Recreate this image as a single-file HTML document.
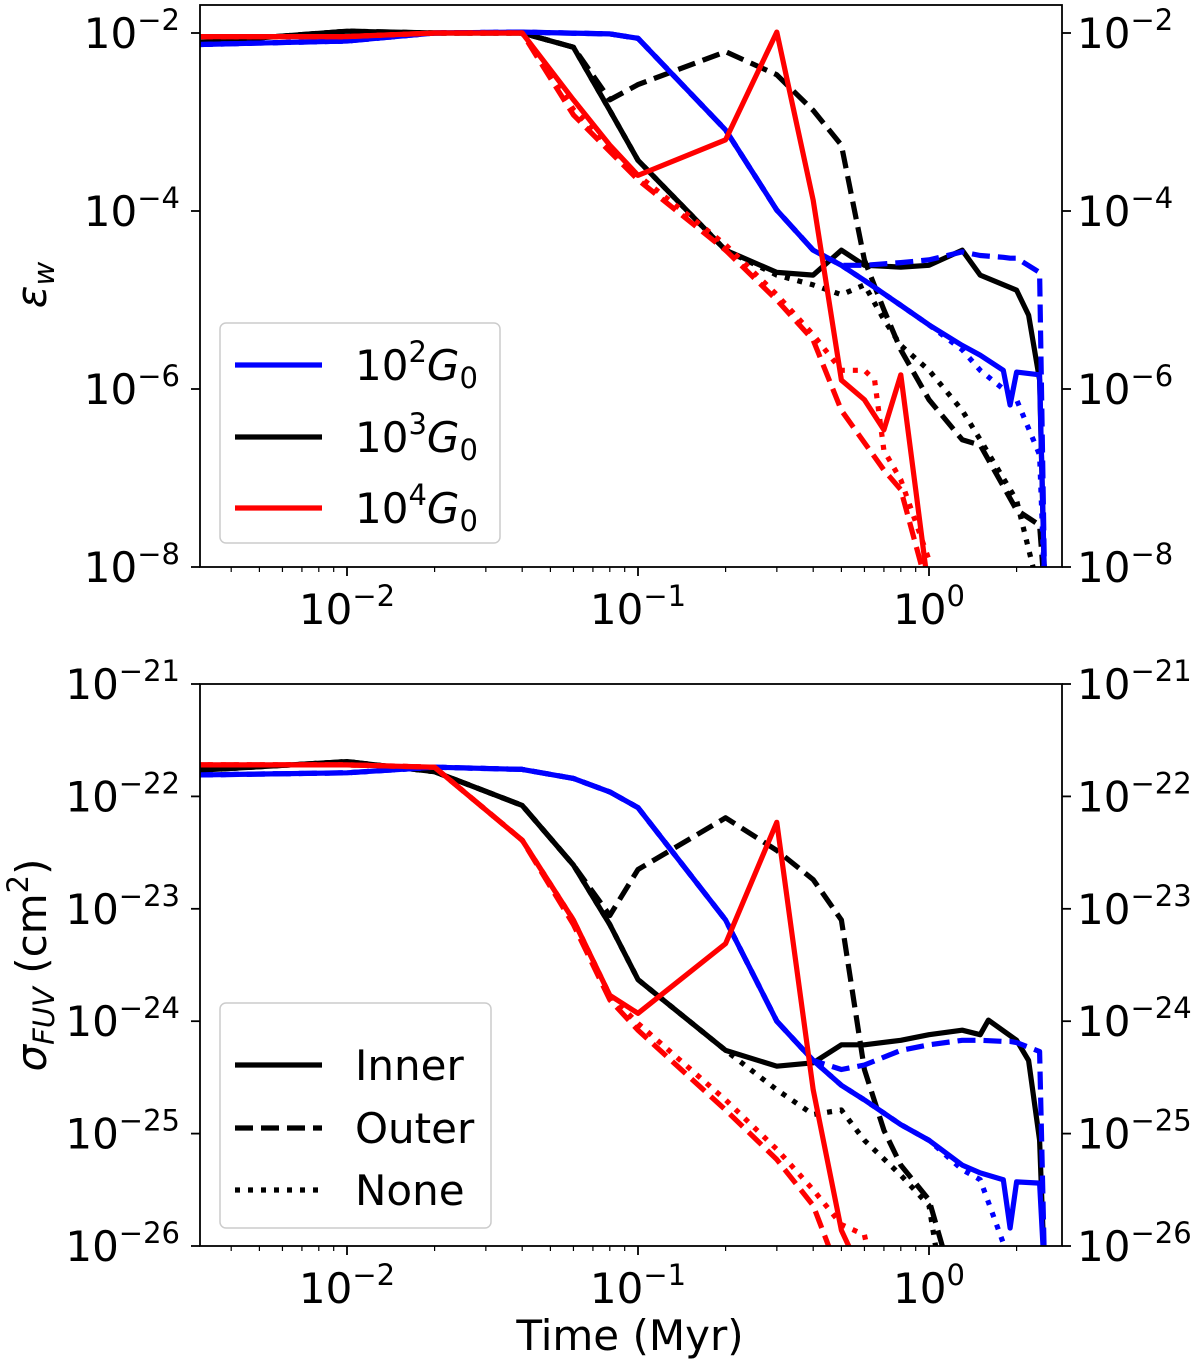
<!DOCTYPE html>
<html><head><meta charset="utf-8"><style>
html,body{margin:0;padding:0;background:#fff;}
svg text{font-family:"DejaVu Sans","Liberation Sans",sans-serif;fill:#000;}
</style></head><body>
<svg id="chart" width="1200" height="1366" viewBox="0 0 1200 1366" xmlns="http://www.w3.org/2000/svg">
<defs>
<clipPath id="clipTop"><rect x="200" y="5" width="862" height="562"/></clipPath>
<clipPath id="clipBot"><rect x="200" y="684" width="862" height="562"/></clipPath>
</defs>
<g id="gtop"></g>
<g id="gbot"></g>
</svg>
<script>
const tA = [0.003,0.01,0.02,0.04,0.06,0.08,0.1,0.2,0.3,0.4,0.5,0.6,0.8,1.0,1.3,1.5,2.0,2.2,2.4,2.5];
const epsBlackInner = [-2.11,-1.98,-2.0,-2.0,-2.16,-2.87,-3.43,-4.44,-4.69,-4.72,-4.44,-4.61,-4.63,-4.61,-4.44,-4.72,-4.89,-5.17,-5.90,-8.3];
const tBO = [0.003,0.01,0.02,0.04,0.06,0.08,0.1,0.2,0.3,0.4,0.5,0.6,0.7,0.8,1.0,1.3,1.5,2.0,2.4,2.5];
const epsBlackOuter = [-2.11,-1.98,-2.0,-2.0,-2.16,-2.75,-2.58,-2.21,-2.47,-2.87,-3.26,-4.55,-5.11,-5.56,-6.12,-6.57,-6.63,-7.36,-7.53,-8.3];
const tBN = [0.003,0.01,0.02,0.04,0.06,0.08,0.1,0.2,0.3,0.4,0.5,0.6,0.7,0.8,1.0,1.3,1.5,2.0,2.4];
const epsBlackNone = [-2.11,-1.98,-2.0,-2.0,-2.16,-2.87,-3.43,-4.44,-4.72,-4.83,-4.94,-4.83,-5.22,-5.51,-5.79,-6.24,-6.57,-7.25,-8.3];
const tBl = [0.003,0.01,0.02,0.04,0.08,0.1,0.2,0.3,0.4,0.5,0.6,0.8,1.0,1.3,1.5,1.8,1.9,2.0,2.4,2.5];
const epsBlueInner = [-2.13,-2.09,-2.0,-1.99,-2.01,-2.06,-3.09,-3.99,-4.44,-4.61,-4.78,-5.06,-5.28,-5.51,-5.62,-5.79,-6.18,-5.81,-5.84,-8.3];
const epsBlueOuter = [-2.13,-2.09,-2.0,-1.99,-2.01,-2.06,-3.09,-3.99,-4.44,-4.61,-4.61,-4.58,-4.55,-4.46,-4.50,-4.52,-4.53,-4.53,-4.69,-8.3];
const epsBlueNone = [-2.13,-2.09,-2.0,-1.99,-2.01,-2.06,-3.09,-3.99,-4.44,-4.61,-4.78,-5.06,-5.28,-5.56,-5.79,-6.0,-6.05,-6.12,-6.74,-8.3];
const tR = [0.003,0.01,0.02,0.04,0.06,0.08,0.1,0.2,0.3,0.4,0.5,0.6,0.7,0.8,0.9,1.0];
const epsRedInner = [-2.04,-2.04,-2.0,-2.0,-2.75,-3.26,-3.6,-3.2,-1.99,-3.88,-5.9,-6.12,-6.46,-5.84,-7.13,-8.3];
const tRD = [0.003,0.01,0.02,0.04,0.06,0.1,0.2,0.3,0.4,0.5,0.7,0.8,1.0];
const epsRedOuter = [-2.04,-2.04,-2.0,-2.0,-2.92,-3.65,-4.44,-5.0,-5.45,-6.24,-6.91,-7.13,-8.3];
const tRN = [0.003,0.01,0.02,0.04,0.06,0.1,0.2,0.3,0.4,0.5,0.6,0.65,0.7,0.8,1.0];
const epsRedNone = [-2.04,-2.04,-2.0,-2.0,-2.86,-3.6,-4.38,-4.94,-5.39,-5.79,-5.79,-5.9,-6.69,-7.02,-7.92];
const tS = [0.003,0.01,0.02,0.04,0.06,0.08,0.1,0.2,0.3,0.4,0.5,0.6,0.8,1.0,1.3,1.5,1.6,2.0,2.2,2.4,2.5];
const sigBlackInner = [-21.77,-21.69,-21.78,-22.08,-22.61,-23.14,-23.63,-24.26,-24.40,-24.37,-24.21,-24.21,-24.17,-24.12,-24.08,-24.12,-23.99,-24.17,-24.35,-25.06,-26.3];
const tSO = [0.003,0.01,0.02,0.04,0.06,0.08,0.1,0.2,0.3,0.4,0.5,0.6,0.7,0.8,1.0,1.2];
const sigBlackOuter = [-21.77,-21.69,-21.78,-22.08,-22.61,-23.06,-22.65,-22.19,-22.48,-22.74,-23.1,-24.43,-24.97,-25.28,-25.59,-26.3];
const tSN = [0.003,0.01,0.02,0.04,0.06,0.08,0.1,0.2,0.3,0.4,0.5,0.6,0.8,1.0,1.1];
const sigBlackNone = [-21.77,-21.69,-21.78,-22.08,-22.61,-23.14,-23.63,-24.26,-24.61,-24.83,-24.79,-25.06,-25.37,-25.64,-26.3];
const tSB = [0.003,0.01,0.02,0.04,0.06,0.08,0.1,0.2,0.3,0.4,0.5,0.6,0.8,1.0,1.3,1.5,1.8,1.9,2.0,2.4,2.5];
const sigBlueInner = [-21.81,-21.79,-21.74,-21.76,-21.84,-21.96,-22.1,-23.1,-24.0,-24.35,-24.57,-24.7,-24.92,-25.06,-25.28,-25.35,-25.41,-25.84,-25.43,-25.44,-26.3];
const sigBlueOuter = [-21.81,-21.79,-21.74,-21.76,-21.84,-21.96,-22.1,-23.1,-24.0,-24.35,-24.43,-24.39,-24.26,-24.21,-24.17,-24.17,-24.18,-24.18,-24.19,-24.27,-26.3];
const tSBN = [0.003,0.01,0.02,0.04,0.06,0.08,0.1,0.2,0.3,0.4,0.5,0.6,0.8,1.0,1.3,1.5,2.0];
const sigBlueNone = [-21.81,-21.79,-21.74,-21.76,-21.84,-21.96,-22.1,-23.1,-24.0,-24.35,-24.57,-24.7,-24.92,-25.06,-25.32,-25.41,-26.3];
const tSR = [0.003,0.01,0.02,0.04,0.06,0.08,0.1,0.2,0.3,0.4,0.5,0.6];
const sigRedInner = [-21.72,-21.72,-21.74,-22.39,-23.1,-23.77,-23.93,-23.31,-22.23,-24.61,-25.86,-26.3];
const tSRD = [0.003,0.01,0.02,0.04,0.06,0.08,0.1,0.2,0.3,0.4,0.5];
const sigRedOuter = [-21.72,-21.72,-21.74,-22.39,-23.14,-23.81,-24.08,-24.79,-25.23,-25.64,-26.3];
const tSRN = [0.003,0.01,0.02,0.04,0.06,0.08,0.1,0.2,0.3,0.4,0.5,0.6,0.65];
const sigRedNone = [-21.72,-21.72,-21.74,-22.39,-23.1,-23.77,-24.02,-24.70,-25.14,-25.50,-25.81,-25.9,-26.3];
const xTickLabels = ["10","10","10"];
const xTickExps = ["−2","−1","0"];
const topTickExps = ["−2","−4","−6","−8"];
const botTickExps = ["−21","−22","−23","−24","−25","−26"];

const NS="http://www.w3.org/2000/svg";
function mk(tag,attrs,parent){const e=document.createElementNS(NS,tag);for(const k in attrs)e.setAttribute(k,attrs[k]);parent.appendChild(e);return e;}
const X0=200,X1=1062,FS=42,SFS=29;
function xs(t){return 347+291*(Math.log10(t)+2);}
function ysTop(l){return 33+(-2-l)*89;}
function ysBot(l){return 684+(-21-l)*112.4;}
const DASH={solid:null,dash:"18,8",dot:"5,8"};

function drawSeries(g,ts,vals,ys,color,style,name,clip){
  const d=ts.map((t,i)=>(i?"L":"M")+xs(t).toFixed(1)+","+ys(vals[i]).toFixed(1)).join(" ");
  const p=mk("path",{d:d,fill:"none",stroke:color,"stroke-width":5.2,"stroke-linejoin":"round","clip-path":"url(#"+clip+")"},g);
  if(DASH[style])p.setAttribute("stroke-dasharray",DASH[style]);
  
  
}
function supText(g,x,y,base,exp,anchor,name){
  const t=mk("text",{x:x,y:y,"font-size":FS,"text-anchor":anchor},g);
  t.appendChild(document.createTextNode(base));
  const s=mk("tspan",{dy:-18,"font-size":SFS},t);
  s.textContent=exp;
  
  
}
function axes(g,y0,y1,ys,exps,prefix){
  mk("rect",{x:X0,y:y0,width:X1-X0,height:y1-y0,fill:"none",stroke:"#000","stroke-width":1.8},g);
  for(let e=-3;e<=0;e++){for(let m=1;m<10;m++){const t=m*Math.pow(10,e);const x=xs(t);if(x<X0||x>X1)continue;
    const L=m===1?9:5;
    mk("line",{x1:x,y1:y1,x2:x,y2:y1+L,stroke:"#000","stroke-width":m===1?1.8:1.2},g);}}
  [-2,-1,0].forEach((e,i)=>{supText(g,xs(Math.pow(10,e)),y1+57,xTickLabels[i],xTickExps[i],"middle",prefix+"-x-tick-label");});
  exps.forEach((ex)=>{const l=-parseInt(ex.replace("−",""),10);const y=ys(l);
    mk("line",{x1:X0,y1:y,x2:X0-9,y2:y,stroke:"#000","stroke-width":1.8},g);
    mk("line",{x1:X1,y1:y,x2:X1+9,y2:y,stroke:"#000","stroke-width":1.8},g);
    supText(g,180,y+15,"10",ex,"end",prefix+"-y-tick-label-left");
    supText(g,1077,y+15,"10",ex,"start",prefix+"-y-tick-label-right");});
}
function legend(g,x,y,w,h,entries,name){
  const lg=mk("g",{},g);
  
  
  mk("rect",{x:x,y:y,width:w,height:h,rx:6,fill:"#fff","fill-opacity":0.85,stroke:"#ccc","stroke-width":1.5},lg);
  entries.forEach(en=>{
    const l=mk("line",{x1:x+15,y1:en.y,x2:x+102,y2:en.y,stroke:en.color,"stroke-width":5.2},lg);
    if(DASH[en.style])l.setAttribute("stroke-dasharray",DASH[en.style]);
    
    
    const t=mk("text",{x:x+135,y:en.y+15,"font-size":FS},lg);
    
    
    if(en.exp){t.appendChild(document.createTextNode("10"));const s=mk("tspan",{dy:-18,"font-size":SFS},t);s.textContent=en.exp;
      const gg=mk("tspan",{dy:18,"font-style":"italic"},t);gg.textContent="G";
      const z=mk("tspan",{dy:8,"font-size":SFS},t);z.textContent="0";}
    else t.textContent=en.label;
  });
}
const gTop=document.getElementById("gtop"), gBot=document.getElementById("gbot");
[[tA,epsBlackInner,"#000","solid","black-inner"],[tBO,epsBlackOuter,"#000","dash","black-outer"],[tBN,epsBlackNone,"#000","dot","black-none"],
 [tBl,epsBlueInner,"#0000ff","solid","blue-inner"],[tBl,epsBlueOuter,"#0000ff","dash","blue-outer"],[tBl,epsBlueNone,"#0000ff","dot","blue-none"],
 [tR,epsRedInner,"#ff0000","solid","red-inner"],[tRD,epsRedOuter,"#ff0000","dash","red-outer"],[tRN,epsRedNone,"#ff0000","dot","red-none"]]
 .forEach(s=>drawSeries(gTop,s[0],s[1],ysTop,s[2],s[3],"eps-"+s[4],"clipTop"));
[[tS,sigBlackInner,"#000","solid","black-inner"],[tSO,sigBlackOuter,"#000","dash","black-outer"],[tSN,sigBlackNone,"#000","dot","black-none"],
 [tSB,sigBlueInner,"#0000ff","solid","blue-inner"],[tSB,sigBlueOuter,"#0000ff","dash","blue-outer"],[tSBN,sigBlueNone,"#0000ff","dot","blue-none"],
 [tSR,sigRedInner,"#ff0000","solid","red-inner"],[tSRD,sigRedOuter,"#ff0000","dash","red-outer"],[tSRN,sigRedNone,"#ff0000","dot","red-none"]]
 .forEach(s=>drawSeries(gBot,s[0],s[1],ysBot,s[2],s[3],"sigma-"+s[4],"clipBot"));
axes(gTop,5,567,ysTop,topTickExps,"top");
axes(gBot,684,1246,ysBot,botTickExps,"bottom");
legend(gTop,220,323,280,220,[{y:365,color:"#0000ff",style:"solid",exp:"2"},{y:437,color:"#000",style:"solid",exp:"3"},{y:508,color:"#ff0000",style:"solid",exp:"4"}],"legend-field");
legend(gBot,220,1003,271,225,[{y:1065,color:"#000",style:"solid",label:"Inner"},{y:1128,color:"#000",style:"dash",label:"Outer"},{y:1190,color:"#000",style:"dot",label:"None"}],"legend-location");
let tt=mk("text",{x:0,y:0,"font-size":FS,transform:"translate(46,285) rotate(-90)","text-anchor":"middle"},gTop);
let a=mk("tspan",{"font-style":"italic"},tt);a.textContent="ε";
a=mk("tspan",{"font-style":"italic","font-size":SFS,dy:8},tt);a.textContent="w";


tt=mk("text",{x:0,y:0,"font-size":FS,transform:"translate(46,965) rotate(-90)","text-anchor":"middle"},gBot);
a=mk("tspan",{"font-style":"italic"},tt);a.textContent="σ";
a=mk("tspan",{"font-style":"italic","font-size":SFS,dy:8},tt);a.textContent="FUV";
a=mk("tspan",{dy:-8},tt);a.textContent=" (cm";
a=mk("tspan",{"font-size":SFS,dy:-18},tt);a.textContent="2";
a=mk("tspan",{dy:18},tt);a.textContent=")";


tt=mk("text",{x:630,y:1350,"font-size":FS,"text-anchor":"middle"},gBot);
tt.textContent="Time (Myr)";


</script>
</body></html>
